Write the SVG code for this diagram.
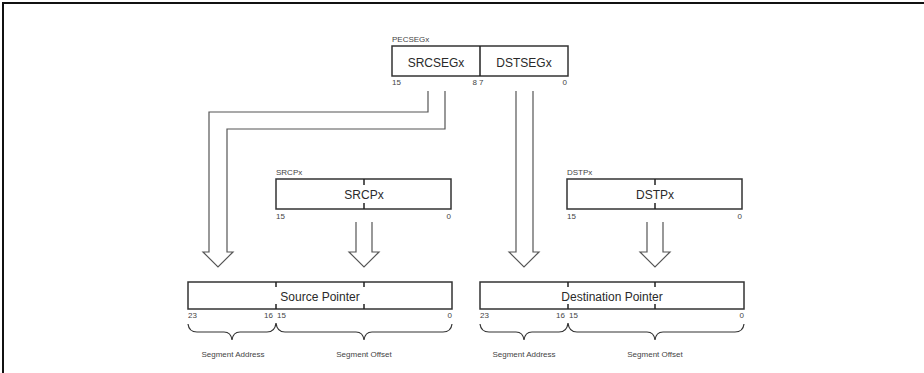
<svg xmlns="http://www.w3.org/2000/svg" width="924" height="373" viewBox="0 0 924 373">
<style>
.box{fill:#fff;stroke:#333;stroke-width:1.5}
.tick{stroke:#222;stroke-width:1.5}
.arr{fill:none;stroke:#555;stroke-width:1.2}
.brace{fill:none;stroke:#333;stroke-width:1.2}
.big{font-family:"Liberation Sans",Arial,sans-serif;font-size:12px;fill:#2a2a2a}
.sm{font-family:"Liberation Sans",Arial,sans-serif;font-size:8px;fill:#444}
.mid{text-anchor:middle}
.end{text-anchor:end}
</style>
<rect width="924" height="373" fill="#fff"/>
<path d="M3,373 V3 H924" fill="none" stroke="#111" stroke-width="2"/>

<g id="connectors">
<path class="arr" d="M428,91 V112 H209 V252 H203 L218,267 L233,252 H227 V129 H445 V91"/>
<path class="arr" d="M516,91 V252 H509 L524,267 L539,252 H533 V91"/>
<path class="arr" d="M356,222 V252 H349 L364,267 L379,252 H372 V222"/>
<path class="arr" d="M647,222 V252 H640 L655,267 L670,252 H663 V222"/>
</g>

<g id="pecsegx">
<text class="sm" x="392" y="42">PECSEGx</text>
<rect class="box" x="392" y="46" width="176" height="30"/>
<line class="tick" x1="480" y1="46" x2="480" y2="76"/>
<text class="big mid" x="436" y="66.5">SRCSEGx</text>
<text class="big mid" x="524" y="66.5">DSTSEGx</text>
<text class="sm" x="392" y="85">15</text>
<text class="sm end" x="477" y="85">8</text>
<text class="sm" x="479" y="85">7</text>
<text class="sm end" x="567" y="85">0</text>
</g>

<g id="srcpx">
<text class="sm" x="276" y="175">SRCPx</text>
<rect class="box" x="276" y="179" width="175" height="30"/>
<line class="tick" x1="364" y1="179" x2="364" y2="185"/>
<line class="tick" x1="364" y1="203" x2="364" y2="209"/>
<text class="big mid" x="364" y="198.5">SRCPx</text>
<text class="sm" x="276" y="219">15</text>
<text class="sm end" x="451" y="219">0</text>
</g>

<g id="dstpx">
<text class="sm" x="567" y="175">DSTPx</text>
<rect class="box" x="567" y="179" width="175" height="30"/>
<line class="tick" x1="655" y1="179" x2="655" y2="185"/>
<line class="tick" x1="655" y1="203" x2="655" y2="209"/>
<text class="big mid" x="655" y="198.5">DSTPx</text>
<text class="sm" x="567" y="219">15</text>
<text class="sm end" x="742" y="219">0</text>
</g>

<g id="source-pointer">
<rect class="box" x="188" y="282" width="264" height="27"/>
<line class="tick" x1="276" y1="282" x2="276" y2="287"/>
<line class="tick" x1="276" y1="304" x2="276" y2="309"/>
<line class="tick" x1="364" y1="282" x2="364" y2="287"/>
<line class="tick" x1="364" y1="304" x2="364" y2="309"/>
<text class="big mid" x="320" y="301">Source Pointer</text>
<text class="sm" x="188" y="318">23</text>
<text class="sm end" x="273" y="318">16</text>
<text class="sm" x="277" y="318">15</text>
<text class="sm end" x="452" y="318">0</text>
<path class="brace" d="M188,324 Q189,332 197,332 H224 Q231,332 232,340 Q233,332 240,332 H267 Q275,332 276,323 Q277,332 285,332 H356 Q363,332 364,340 Q365,332 372,332 H443 Q451,332 452,324"/>
<text class="sm mid" x="233" y="357">Segment Address</text>
<text class="sm mid" x="364" y="357">Segment Offset</text>
</g>

<g id="destination-pointer">
<rect class="box" x="480" y="282" width="264" height="27"/>
<line class="tick" x1="568" y1="282" x2="568" y2="287"/>
<line class="tick" x1="568" y1="304" x2="568" y2="309"/>
<line class="tick" x1="655" y1="282" x2="655" y2="287"/>
<line class="tick" x1="655" y1="304" x2="655" y2="309"/>
<text class="big mid" x="612" y="301">Destination Pointer</text>
<text class="sm" x="480" y="318">23</text>
<text class="sm end" x="565" y="318">16</text>
<text class="sm" x="569" y="318">15</text>
<text class="sm end" x="744" y="318">0</text>
<path class="brace" d="M480,324 Q481,332 489,332 H516 Q523,332 524,340 Q525,332 532,332 H559 Q567,332 568,323 Q569,332 577,332 H647 Q654,332 655,340 Q656,332 663,332 H735 Q743,332 744,324"/>
<text class="sm mid" x="524" y="357">Segment Address</text>
<text class="sm mid" x="655" y="357">Segment Offset</text>
</g>
</svg>
